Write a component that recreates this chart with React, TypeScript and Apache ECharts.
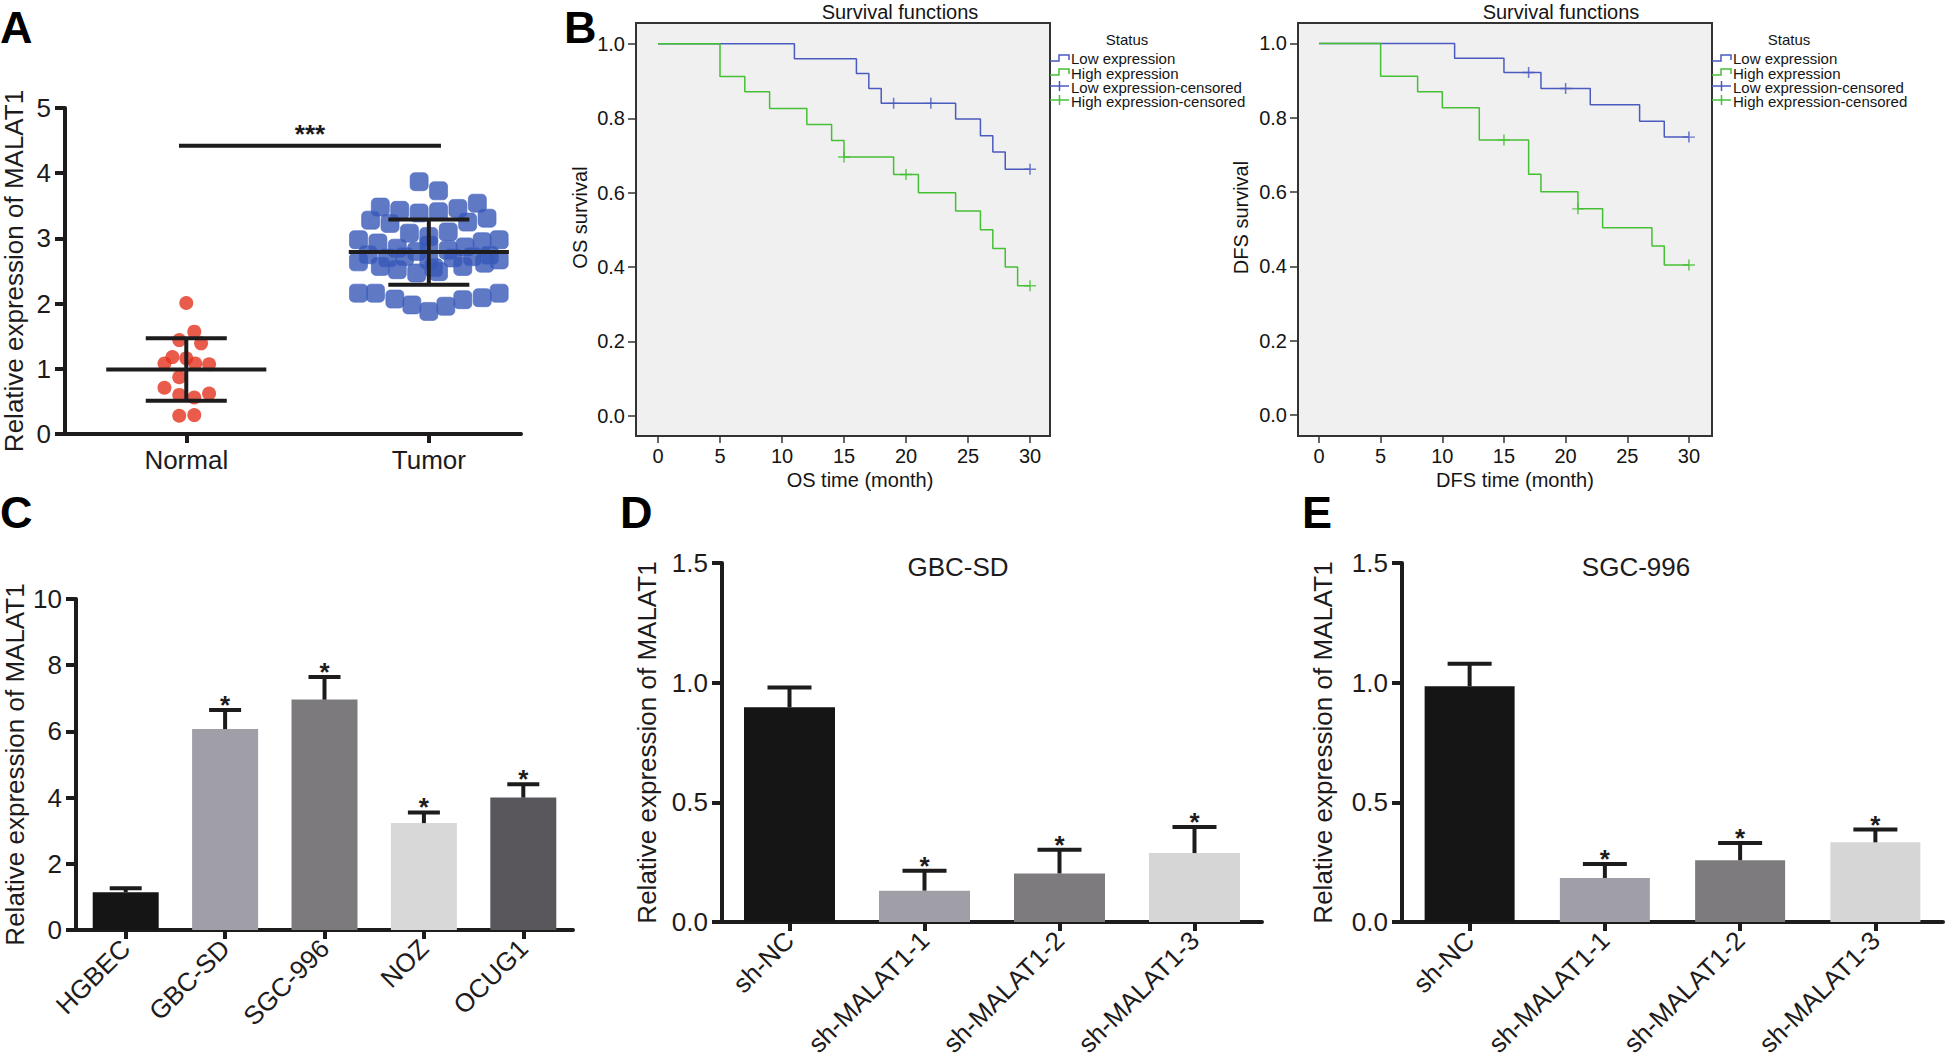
import React, { useEffect, useRef } from "react";
import * as echarts from "echarts";

const FONT = "'Liberation Sans', Arial, Helvetica, sans-serif";
const INK = "#1d1b1c";
const KM_INK = "#151515";
const KM_BLUE = "#4b5abf";
const KM_GREEN = "#45bf34";
const RED = "#e4321e";
const BLUE = "#3757b6";

// ---------- Panel A ----------
const groupNamesA = ["Normal", "Tumor"];
const normalValues = [2.01, 1.57, 1.44, 1.39, 1.18, 1.16, 1.08, 1.08, 1.07, 0.87, 0.71, 0.6, 0.56, 0.62, 0.28, 0.29];
const normalJitter = [0, 0.033, -0.029, 0.061, -0.057, 0, -0.09, 0.037, 0.094, -0.029, -0.09, -0.029, 0.033, 0.094, -0.029, 0.033];
const tumorValues = [
  3.87, 3.73, 3.48, 3.43, 3.39, 3.41, 3.46, 3.54, 3.28, 3.23, 3.25, 3.31, 3.08, 3.03, 3.1,
  2.98, 2.98, 2.93, 2.95, 2.85, 2.87, 2.8, 2.82, 2.64, 2.67, 2.57, 2.62, 2.52, 2.57, 2.47,
  2.49, 2.67, 2.16, 2.16, 2.07, 1.98, 1.88, 1.96, 2.06, 2.09, 2.16, 2.75, 2.74, 2.7, 2.72,
  2.7, 2.72, 2.9, 2.55,
];
const tumorJitter = [
  -0.04, 0.04, -0.2, -0.12, -0.04, 0.04, 0.12, 0.2, -0.24, -0.16, 0.16, 0.24, -0.08, 0, 0.08,
  -0.29, 0.29, -0.21, 0.22, -0.13, 0.15, -0.05, 0.08, -0.29, 0.29, -0.2, 0.23, -0.13, 0.14, -0.05,
  0.04, 0, -0.29, -0.22, -0.14, -0.07, 0, 0.07, 0.14, 0.22, 0.29, -0.25, 0.25, -0.17, 0.18,
  0.1, -0.1, 0.0, 0.02,
];
const groupMeansA = [0.99, 2.79];
const groupSdA = [0.48, 0.5];
const sigBracketA = [-0.03, 1.05, 4.42];
const sigLabelA = "***";

// ---------- Panel B ----------
const kmTicksX = [0, 5, 10, 15, 20, 25, 30];
const kmTicksY = [0, 0.2, 0.4, 0.6, 0.8, 1.0];
const osLow = [[0, 1], [11, 0.96], [16, 0.92], [17, 0.88], [18, 0.84], [24, 0.798], [26, 0.753], [27, 0.709], [28, 0.663], [30, 0.663]];
const osLowCensored = [[19, 0.84], [22, 0.84], [30, 0.663]];
const osHigh = [[0, 1], [5, 0.912], [7, 0.871], [9, 0.826], [12, 0.783], [14, 0.74], [15, 0.696], [19, 0.649], [21, 0.6], [24, 0.551], [26, 0.5], [27, 0.45], [28, 0.4], [29, 0.35], [30, 0.35]];
const osHighCensored = [[15, 0.696], [20, 0.649], [30, 0.35]];
const dfsLow = [[0, 1], [11, 0.96], [15, 0.922], [18, 0.879], [22, 0.835], [26, 0.791], [28, 0.748], [30, 0.748]];
const dfsLowCensored = [[17, 0.922], [20, 0.879], [30, 0.748]];
const dfsHigh = [[0, 1], [5, 0.912], [8, 0.87], [10, 0.827], [13, 0.74], [17, 0.648], [18, 0.601], [21, 0.555], [23, 0.504], [27, 0.455], [28, 0.404], [30, 0.404]];
const dfsHighCensored = [[15, 0.74], [21, 0.555], [30, 0.404]];
const kmLegend = ["Low expression", "High expression", "Low expression-censored", "High expression-censored"];

// ---------- Panel C ----------
const cellLines = ["HGBEC", "GBC-SD", "SGC-996", "NOZ", "OCUG1"];
const cellMeans = [1.14, 6.07, 6.96, 3.23, 4.0];
const cellErr = [0.12, 0.58, 0.68, 0.32, 0.4];
const cellSig = ["", "*", "*", "*", "*"];
const cellColors = ["#151515", "#a09fa8", "#7d7a7e", "#d8d8d8", "#59575b"];

// ---------- Panels D / E ----------
const shGroups = ["sh-NC", "sh-MALAT1-1", "sh-MALAT1-2", "sh-MALAT1-3"];
const gbcMeans = [0.897, 0.131, 0.203, 0.288];
const gbcErr = [0.083, 0.083, 0.099, 0.109];
const sgcMeans = [0.985, 0.184, 0.258, 0.333];
const sgcErr = [0.094, 0.058, 0.072, 0.053];
const shSig = ["", "*", "*", "*"];
const shColors = ["#151515", "#a09fa8", "#7e7b7f", "#d6d6d6"];

function makeErrorRender(sigs: string[], halfCap: number) {
  return (params: any, api: any) => {
    const i = api.value(0);
    const v = api.value(1);
    const e = api.value(2);
    const base = api.coord([i, v]);
    const top = api.coord([i, v + e]);
    const children: any[] = [
      { type: "line", shape: { x1: base[0], y1: base[1], x2: top[0], y2: top[1] }, style: { stroke: INK, lineWidth: 4 } },
      { type: "line", shape: { x1: top[0] - halfCap, y1: top[1], x2: top[0] + halfCap, y2: top[1] }, style: { stroke: INK, lineWidth: 4 } },
    ];
    const s = sigs[params.dataIndex];
    if (s) {
      children.push({
        type: "text",
        x: top[0],
        y: top[1] - 5,
        style: { text: s, fill: INK, fontSize: 26, fontFamily: FONT, fontWeight: "bold", align: "center", verticalAlign: "middle" },
      });
    }
    return { type: "group", children };
  };
}

function meanSdRender(params: any, api: any) {
  const g = api.value(0);
  const m = api.value(1);
  const s = api.value(2);
  const ml = api.coord([g - 0.33, m]);
  const mr = api.coord([g + 0.33, m]);
  const hi = api.coord([g, m + s]);
  const lo = api.coord([g, m - s]);
  const cl = api.coord([g - 0.167, m])[0];
  const cr = api.coord([g + 0.167, m])[0];
  const st = { stroke: INK, lineWidth: 4 };
  return {
    type: "group",
    children: [
      { type: "line", shape: { x1: ml[0], y1: ml[1], x2: mr[0], y2: mr[1] }, style: st },
      { type: "line", shape: { x1: hi[0], y1: hi[1], x2: lo[0], y2: lo[1] }, style: st },
      { type: "line", shape: { x1: cl, y1: hi[1], x2: cr, y2: hi[1] }, style: st },
      { type: "line", shape: { x1: cl, y1: lo[1], x2: cr, y2: lo[1] }, style: st },
    ],
  };
}

function sigRender(params: any, api: any) {
  const a = api.coord([api.value(0), api.value(2)]);
  const b = api.coord([api.value(1), api.value(2)]);
  return {
    type: "group",
    children: [
      { type: "line", shape: { x1: a[0], y1: a[1], x2: b[0], y2: b[1] }, style: { stroke: INK, lineWidth: 4 } },
      {
        type: "text",
        x: (a[0] + b[0]) / 2,
        y: a[1] - 12,
        style: { text: sigLabelA, fill: INK, fontSize: 26, fontWeight: "bold", fontFamily: FONT, align: "center", verticalAlign: "middle" },
      },
    ],
  };
}

function kmLegendGraphics(R: number) {
  const t = (text: string, y: number) => ({
    type: "text",
    x: R + 21,
    y,
    style: { text, fill: KM_INK, fontSize: 15, fontFamily: FONT, align: "left", verticalAlign: "middle" },
  });
  return [
    { type: "text", x: R + 77, y: 39, style: { text: "Status", fill: KM_INK, fontSize: 15, fontFamily: FONT, align: "center", verticalAlign: "middle" } },
    { type: "polyline", shape: { points: [[R, 61], [R + 9, 61], [R + 9, 55], [R + 19, 55], [R + 19, 60]] }, style: { stroke: KM_BLUE, lineWidth: 1.5, fill: null } },
    t(kmLegend[0], 58),
    { type: "polyline", shape: { points: [[R, 75], [R + 9, 75], [R + 9, 69], [R + 19, 69], [R + 19, 74]] }, style: { stroke: KM_GREEN, lineWidth: 1.5, fill: null } },
    t(kmLegend[1], 73),
    { type: "line", shape: { x1: R, y1: 86, x2: R + 19, y2: 86 }, style: { stroke: KM_BLUE, lineWidth: 1.5 } },
    { type: "line", shape: { x1: R + 9.5, y1: 81, x2: R + 9.5, y2: 91 }, style: { stroke: KM_BLUE, lineWidth: 1.5 } },
    t(kmLegend[2], 87),
    { type: "line", shape: { x1: R, y1: 100, x2: R + 19, y2: 100 }, style: { stroke: KM_GREEN, lineWidth: 1.5 } },
    { type: "line", shape: { x1: R + 9.5, y1: 95, x2: R + 9.5, y2: 105 }, style: { stroke: KM_GREEN, lineWidth: 1.5 } },
    t(kmLegend[3], 101),
  ];
}

const letter = (text: string, x: number, y: number) => ({
  type: "text",
  x,
  y,
  style: { text, fill: "#000", fontSize: 45, fontWeight: "bold", fontFamily: FONT, align: "left", verticalAlign: "top" },
});
const plainText = (text: string, x: number, y: number, size: number, color = INK) => ({
  type: "text",
  x,
  y,
  style: { text, fill: color, fontSize: size, fontFamily: FONT, align: "center", verticalAlign: "middle" },
});

const CENSOR_SYMBOL = "path://M6 0 L6 12 M0 6 L12 6";

function gpValueY(gridIndex: number, min: number, max: number, interval: number, name: string, nameGap: number, fmt?: (v: number) => string) {
  return {
    gridIndex,
    type: "value",
    min,
    max,
    interval,
    name,
    nameLocation: "middle",
    nameRotate: 90,
    nameGap,
    nameTextStyle: { fontSize: 26, color: INK, fontFamily: FONT },
    axisLine: { show: true, onZero: false, lineStyle: { color: INK, width: 4 } },
    axisTick: { show: true, length: 10, lineStyle: { color: INK, width: 4 } },
    axisLabel: { fontSize: 26, color: INK, fontFamily: FONT, margin: 14, formatter: fmt },
    splitLine: { show: false },
  };
}

function gpCatX(gridIndex: number, data: string[]) {
  return {
    gridIndex,
    type: "category",
    data,
    axisLine: { show: true, onZero: false, lineStyle: { color: INK, width: 4 } },
    axisTick: { show: true, alignWithLabel: true, length: 9, lineStyle: { color: INK, width: 4 } },
    axisLabel: { rotate: 45, fontSize: 26, color: INK, fontFamily: FONT, margin: 14, interval: 0 },
  };
}

function kmX(gridIndex: number, min: number, max: number, name: string, shift: number) {
  return {
    gridIndex,
    type: "value",
    min,
    max,
    name,
    nameLocation: "middle",
    nameGap: 34,
    nameTextStyle: { fontSize: 20, color: KM_INK, fontFamily: FONT, padding: [0, 0, 0, shift] },
    axisLine: { show: false, onZero: false },
    axisTick: { show: true, customValues: kmTicksX, length: 7, lineStyle: { color: "#333", width: 1.5 } },
    axisLabel: { customValues: kmTicksX, fontSize: 20, color: KM_INK, fontFamily: FONT, margin: 10 },
    splitLine: { show: false },
  };
}

function kmY(gridIndex: number, min: number, max: number, name: string, nameGap: number) {
  return {
    gridIndex,
    type: "value",
    min,
    max,
    name,
    nameLocation: "middle",
    nameRotate: 90,
    nameGap,
    nameTextStyle: { fontSize: 20, color: KM_INK, fontFamily: FONT, padding: [0, 0, 0, 24] },
    axisLine: { show: false, onZero: false },
    axisTick: { show: true, customValues: kmTicksY, length: 8, lineStyle: { color: "#333", width: 1.5 } },
    axisLabel: { customValues: kmTicksY, fontSize: 20, color: KM_INK, fontFamily: FONT, margin: 11, formatter: (v: number) => v.toFixed(1) },
    splitLine: { show: false },
  };
}

function kmSeries(axis: number, low: number[][], high: number[][], lowC: number[][], highC: number[][]) {
  const line = (name: string, data: number[][], color: string) => ({
    name,
    type: "line",
    xAxisIndex: axis,
    yAxisIndex: axis,
    step: "end",
    data,
    showSymbol: false,
    symbol: "none",
    lineStyle: { color, width: 1.5 },
    itemStyle: { color },
    z: 3,
  });
  const cens = (name: string, data: number[][], color: string) => ({
    name,
    type: "scatter",
    xAxisIndex: axis,
    yAxisIndex: axis,
    data,
    symbol: CENSOR_SYMBOL,
    symbolSize: [12, 11],
    itemStyle: { color: "rgba(0,0,0,0)", borderColor: color, borderWidth: 1.5 },
    z: 4,
  });
  return [
    line(kmLegend[0], low, KM_BLUE),
    line(kmLegend[1], high, KM_GREEN),
    cens(kmLegend[2], lowC, KM_BLUE),
    cens(kmLegend[3], highC, KM_GREEN),
  ];
}

function barSeries(axis: number, means: number[], errs: number[], colors: string[], sigs: string[], barWidth: number, halfCap: number) {
  return [
    {
      type: "bar",
      xAxisIndex: axis,
      yAxisIndex: axis,
      barWidth,
      data: means.map((v, i) => ({ value: v, itemStyle: { color: colors[i] } })),
      z: 2,
    },
    {
      type: "custom",
      xAxisIndex: axis,
      yAxisIndex: axis,
      data: means.map((v, i) => [i, v, errs[i]]),
      renderItem: makeErrorRender(sigs, halfCap),
      z: 5,
    },
  ];
}

export default function App() {
  const ref = useRef<HTMLDivElement>(null);
  useEffect(() => {
    if (!ref.current) return;
    const chart = echarts.init(ref.current, undefined, { renderer: "svg" });
    const option: any = {
      animation: false,
      backgroundColor: "#ffffff",
      textStyle: { fontFamily: FONT },
      grid: [
        { left: 63, top: 108, width: 458, height: 326 },
        { left: 636, top: 23, width: 414, height: 413, show: true, backgroundColor: "#f0f0f0", borderColor: "#333", borderWidth: 2 },
        { left: 1298, top: 23, width: 414, height: 413, show: true, backgroundColor: "#f0f0f0", borderColor: "#333", borderWidth: 2 },
        { left: 76, top: 599, width: 497, height: 331 },
        { left: 722, top: 563, width: 540, height: 359 },
        { left: 1402, top: 563, width: 541, height: 359 },
      ],
      xAxis: [
        {
          gridIndex: 0,
          type: "value",
          min: -0.5,
          max: 1.38,
          axisLine: { show: true, onZero: false, lineStyle: { color: INK, width: 4 } },
          axisTick: { show: true, customValues: [0, 1], length: 9, lineStyle: { color: INK, width: 4 } },
          axisLabel: { customValues: [0, 1], formatter: (v: number) => groupNamesA[Math.round(v)], fontSize: 26, color: INK, fontFamily: FONT, margin: 13 },
          splitLine: { show: false },
        },
        kmX(1, -1.774, 31.61, "OS time (month)", 34),
        kmX(2, -1.7, 31.87, "DFS time (month)", 20),
        gpCatX(3, cellLines),
        gpCatX(4, shGroups),
        gpCatX(5, shGroups),
      ],
      yAxis: [
        gpValueY(0, 0, 5, 1, "Relative expression of MALAT1", 38),
        kmY(1, -0.054, 1.056, "OS survival", 46),
        kmY(2, -0.056, 1.055, "DFS survival", 47),
        gpValueY(3, 0, 10, 2, "Relative expression of MALAT1", 48),
        gpValueY(4, 0, 1.5, 0.5, "Relative expression of MALAT1", 62, (v: number) => v.toFixed(1)),
        gpValueY(5, 0, 1.5, 0.5, "Relative expression of MALAT1", 66, (v: number) => v.toFixed(1)),
      ],
      series: [
        {
          name: groupNamesA[0],
          type: "scatter",
          xAxisIndex: 0,
          yAxisIndex: 0,
          data: normalValues.map((v, i) => [0 + normalJitter[i], v]),
          symbol: "circle",
          symbolSize: 14,
          itemStyle: { color: RED },
          z: 2,
        },
        {
          name: groupNamesA[1],
          type: "scatter",
          xAxisIndex: 0,
          yAxisIndex: 0,
          data: tumorValues.map((v, i) => [1 + tumorJitter[i], v]),
          symbol: "roundRect",
          symbolSize: 18,
          itemStyle: { color: BLUE, borderColor: "#4a68c4", borderWidth: 0.8 },
          z: 2,
        },
        {
          type: "custom",
          xAxisIndex: 0,
          yAxisIndex: 0,
          data: groupMeansA.map((m, i) => [i, m, groupSdA[i]]),
          renderItem: meanSdRender,
          z: 5,
        },
        {
          type: "custom",
          xAxisIndex: 0,
          yAxisIndex: 0,
          data: [sigBracketA],
          encode: { x: [0, 1], y: 2 },
          renderItem: sigRender,
          z: 5,
        },
        ...kmSeries(1, osLow, osHigh, osLowCensored, osHighCensored),
        ...kmSeries(2, dfsLow, dfsHigh, dfsLowCensored, dfsHighCensored),
        ...barSeries(3, cellMeans, cellErr, cellColors, cellSig, 66, 16),
        ...barSeries(4, gbcMeans, gbcErr, shColors, shSig, 91, 22),
        ...barSeries(5, sgcMeans, sgcErr, shColors, shSig, 90, 22),
      ],
      graphic: [
        letter("A", 0, 5),
        letter("B", 564, 5),
        letter("C", 0, 490),
        letter("D", 620, 490),
        letter("E", 1302, 490),
        plainText("Survival functions", 900, 12, 20, KM_INK),
        plainText("Survival functions", 1561, 12, 20, KM_INK),
        plainText("GBC-SD", 958, 567, 26),
        plainText("SGC-996", 1636, 567, 26),
        ...kmLegendGraphics(1050),
        ...kmLegendGraphics(1712),
      ],
    };
    chart.setOption(option);
    return () => chart.dispose();
  }, []);
  return <div ref={ref} style={{ position: "fixed", left: 0, top: 0, width: 1945, height: 1061 }} />;
}
